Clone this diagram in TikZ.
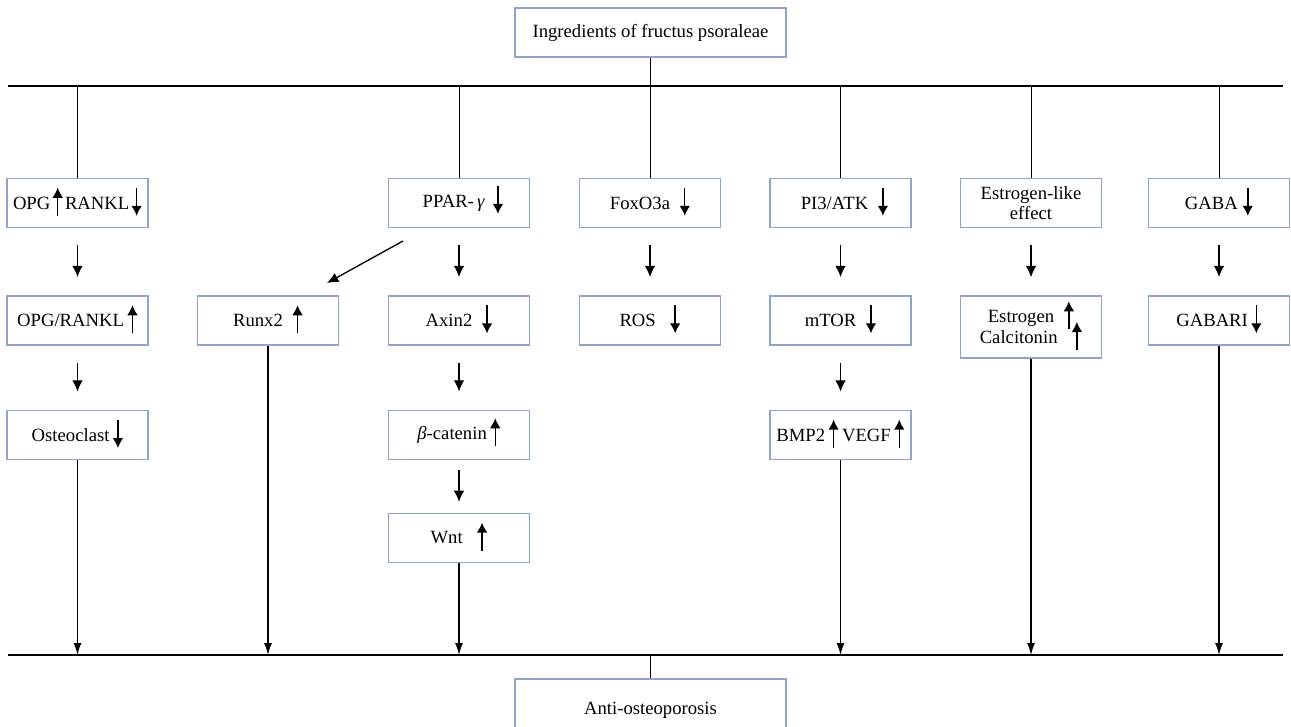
\documentclass[tikz,border=0pt]{standalone}
\usepackage{fontspec}
\setmainfont{Liberation Serif}
\usetikzlibrary{arrows.meta}

\definecolor{boxline}{RGB}{143,163,204}

\tikzset{every picture/.style={line width=0.75pt}}
\tikzset{
  box/.style={draw=boxline, line width=1.1pt, minimum width=105.75pt, minimum height=37pt,
    inner sep=0pt, align=center, font=\fontsize{14}{15.5}\selectfont},
  steparrow/.style={line width=1pt, -{Latex[length=8.5pt,width=8pt]}, shorten <=12.5pt, shorten >=13.5pt},
  busarrow/.style={line width=1pt, -{Latex[length=9pt,width=6pt]}},
  busline/.style={line width=1.4pt}
}

% small up / down arrows inside the boxes
\newcommand{\uparr}{\smash{\tikz[baseline=0pt,reset cm,x=1pt,y=1pt]\draw[line width=1.1pt,-{Latex[length=7.5pt,width=8pt]}] (0,-5) -- (0,16);}}
\newcommand{\downarr}{\smash{\tikz[baseline=0pt,reset cm,x=1pt,y=1pt]\draw[line width=1.1pt,-{Latex[length=7.5pt,width=8pt]}] (0,16) -- (0,-5);}}

\begin{document}
\begin{tikzpicture}[x=0.75pt,y=0.75pt,yscale=-1,xscale=1]
\useasboundingbox (0,0) rectangle (1291,727);
\clip (0,0) rectangle (1291,727);

% Source box
\node[box, minimum width=203pt] (src) at (650.5,32.5) {Ingredients of fructus psoraleae};

% Buses
\coordinate (tl) at (8,86);
\coordinate (tr) at (1283,86);
\coordinate (bl) at (8,655);
\coordinate (br) at (1283,655);
\draw[busline] (tl) -- (tr);
\draw[busline] (bl) -- (br);

% First row
\node[box] (opg) at (77.5,203) {OPG\kern1.5pt\uparr\kern1.5pt RANKL\kern1.5pt\downarr};
\node[box] (ppar) at (459,203) {\hspace*{6pt}PPAR-\,\textit{γ}\,\ \downarr};
\node[box] (foxo) at (650,203) {FoxO3a\ \ \downarr};
\node[box] (pi3) at (840.5,203) {\hspace*{6pt}PI3/ATK\ \ \downarr};
\node[box] (estlike) at (1031,203) {Estrogen-like\\effect};
\node[box] (gaba) at (1219,203) {GABA\ \downarr};

% Second row
\node[box] (ratio) at (77.5,320.5) {OPG/RANKL\,\uparr};
\node[box] (runx) at (268,320.5) {Runx2\ \ \uparr};
\node[box] (axin) at (459,320.5) {Axin2\ \ \downarr};
\node[box] (ros) at (650,320.5) {ROS\ \ \ \downarr};
\node[box] (mtor) at (840.5,320.5) {mTOR\ \ \downarr};
\node[box, minimum height=46.5pt] (estro) at (1031,327) {Estrogen\ \ \uparr\\Calcitonin\ \ \ \uparr};
\node[box] (gabari) at (1219,320.5) {GABARI\,\downarr};

% Third and fourth rows
\node[box] (osteo) at (77.5,435) {Osteoclast\,\downarr};
\node[box] (bcat) at (459,435) {\textit{β}-catenin\,\uparr};
\node[box] (bmp) at (840.5,435) {BMP2\,\uparr\,VEGF\,\uparr};
\node[box] (wnt) at (459,538) {Wnt\ \ \ \uparr};

% Target box
\node[box, minimum width=203pt, minimum height=46.5pt] (anti) at (650.5,710) {Anti-osteoporosis};

% Top bus to first row
\draw (src.south) -- (src.south |- tl);
\draw (opg.north |- tl) -- (opg.north);
\draw (ppar.north |- tl) -- (ppar.north);
\draw (foxo.north |- tl) -- (foxo.north);
\draw (pi3.north |- tl) -- (pi3.north);
\draw (estlike.north |- tl) -- (estlike.north);
\draw (gaba.north |- tl) -- (gaba.north);

% Steps down the columns
\draw[steparrow] (opg) -- (ratio);
\draw[steparrow] (ratio) -- (osteo);
\draw[steparrow] (ppar) -- (axin);
\draw[steparrow] (axin) -- (bcat);
\draw[steparrow, shorten <=7.5pt, shorten >=8pt] (bcat) -- (wnt);
\draw[steparrow] (foxo) -- (ros);
\draw[steparrow] (pi3) -- (mtor);
\draw[steparrow] (mtor) -- (bmp);
\draw[steparrow] (estlike.south) -- (estro.north);
\draw[steparrow] (gaba) -- (gabari);

% Side branch to Runx2
\coordinate (pparfoot) at (403,241);
\coordinate (runxtip) at (327,283);
\draw[line width=1pt, -{Latex[length=8.5pt,width=7.5pt]}] (pparfoot) -- (runxtip);

% Down to the bottom bus
\draw[busarrow] (osteo.south) -- (osteo.south |- bl);
\draw[busarrow] (runx.south) -- (runx.south |- bl);
\draw[busarrow] (wnt.south) -- (wnt.south |- bl);
\draw[busarrow] (bmp.south) -- (bmp.south |- bl);
\draw[busarrow] (estro.south) -- (estro.south |- bl);
\draw[busarrow] (gabari.south) -- (gabari.south |- bl);
\draw (anti.north |- bl) -- (anti.north);

\end{tikzpicture}
\end{document}
